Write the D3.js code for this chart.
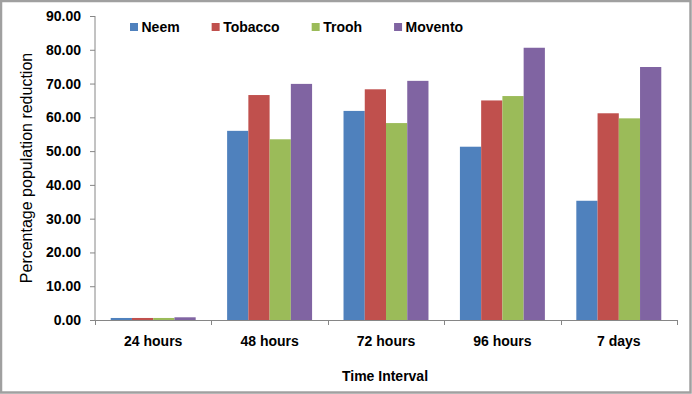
<!DOCTYPE html>
<html>
<head>
<meta charset="utf-8">
<script src="https://cdn.jsdelivr.net/npm/d3@7"></script>
<style>
  html, body { margin: 0; padding: 0; background: #fff; }
  svg { display: block; }
  text { font-family: "Liberation Sans", Arial, sans-serif; fill: #000; }
</style>
</head>
<body>
<svg id="chart" width="692" height="394"></svg>
<script>
const categories = ["24 hours", "48 hours", "72 hours", "96 hours", "7 days"];
const seriesNames = ["Neem", "Tobacco", "Trooh", "Movento"];
const neem    = [0.6, 56.0, 61.9, 51.3, 35.3];
const tobacco = [0.6, 66.6, 68.3, 65.0, 61.2];
const trooh   = [0.6, 53.5, 58.3, 66.3, 59.7];
const movento = [0.8, 69.9, 70.8, 80.6, 74.9];
const yTicks = [0, 10, 20, 30, 40, 50, 60, 70, 80, 90];
const colors = ["#4F81BD", "#C0504D", "#9BBB59", "#8064A2"];
const yTitle = "Percentage population reduction";
const xTitle = "Time Interval";

const seriesValues = [neem, tobacco, trooh, movento];

const W = 692, H = 394;
const margin = { left: 95, right: 15, top: 16, bottom: 74 };
const svg = d3.select("#chart");

// outer frame
svg.append("rect")
  .attr("x", 1).attr("y", 1).attr("width", W - 2.5).attr("height", H - 2.5)
  .attr("fill", "#fff").attr("stroke", "#a0a0a0").attr("stroke-width", 2.5);

const x0 = d3.scaleBand().domain(categories).range([margin.left, W - margin.right]).padding(0);
const x1 = d3.scaleBand().domain(seriesNames).range([0, x0.bandwidth()]).paddingInner(0).paddingOuter(0.74);
const y = d3.scaleLinear().domain([0, 90]).range([H - margin.bottom, margin.top]);

const axisColor = "#868686";

// bars
const groups = svg.append("g").selectAll("g")
  .data(categories)
  .join("g")
  .attr("transform", d => `translate(${x0(d)},0)`);

groups.selectAll("rect")
  .data((c, i) => seriesNames.map((s, j) => ({ s, j, v: seriesValues[j][i] })))
  .join("rect")
  .attr("x", d => x1(d.s))
  .attr("width", x1.bandwidth())
  .attr("y", d => y(d.v))
  .attr("height", d => y(0) - y(d.v))
  .attr("fill", d => colors[d.j]);

// y axis
const yAxis = d3.axisLeft(y).tickValues(yTicks).tickSize(5).tickPadding(9)
  .tickFormat(d3.format(".2f"));
const gy = svg.append("g").attr("transform", `translate(${margin.left},0)`).call(yAxis);
gy.select(".domain").attr("stroke", axisColor).attr("d", `M-0.5,${y(90)}V${y(0)}`).attr("transform", "translate(0.5,0)");
gy.selectAll(".tick line").attr("stroke", axisColor);
gy.selectAll(".tick text").attr("font-size", 14).attr("font-weight", "bold")
  .attr("font-family", "Liberation Sans, Arial, sans-serif").attr("fill", "#000");

// x axis
const xAxis = d3.axisBottom(x0).tickSize(0).tickPadding(16);
const gx = svg.append("g").attr("transform", `translate(0,${y(0)})`).call(xAxis);
gx.select(".domain").attr("stroke", axisColor);
gx.selectAll(".tick text").attr("font-size", 14).attr("font-weight", "bold")
  .attr("font-family", "Liberation Sans, Arial, sans-serif").attr("fill", "#000");
// category boundary ticks
const boundaries = categories.map(c => x0(c)).concat([x0(categories[categories.length - 1]) + x0.bandwidth()]);
gx.selectAll("line.bound").data(boundaries).join("line")
  .attr("class", "bound")
  .attr("x1", d => Math.round(d) + 0.5).attr("x2", d => Math.round(d) + 0.5)
  .attr("y1", 0).attr("y2", 5)
  .attr("stroke", axisColor);

// axis titles
svg.append("text")
  .attr("x", (margin.left + W - margin.right) / 2 - 1)
  .attr("y", 381)
  .attr("text-anchor", "middle")
  .attr("font-size", 14).attr("font-weight", "bold")
  .text(xTitle);

svg.append("text")
  .attr("transform", `translate(32,168) rotate(-90)`)
  .attr("text-anchor", "middle")
  .attr("font-size", 16)
  .text(yTitle);

// legend
const legend = svg.append("g").attr("transform", "translate(130,0)");
let cx = 0;
seriesNames.forEach((s, j) => {
  const g = legend.append("g").attr("transform", `translate(${cx},0)`);
  g.append("rect").attr("x", 0).attr("y", 23).attr("width", 8).attr("height", 8).attr("fill", colors[j]);
  const t = g.append("text").attr("x", 11.5).attr("y", 31.5)
    .attr("font-size", 14).attr("font-weight", "bold").text(s);
  cx += 11.5 + t.node().getComputedTextLength() + 32;
});
</script>
</body>
</html>
